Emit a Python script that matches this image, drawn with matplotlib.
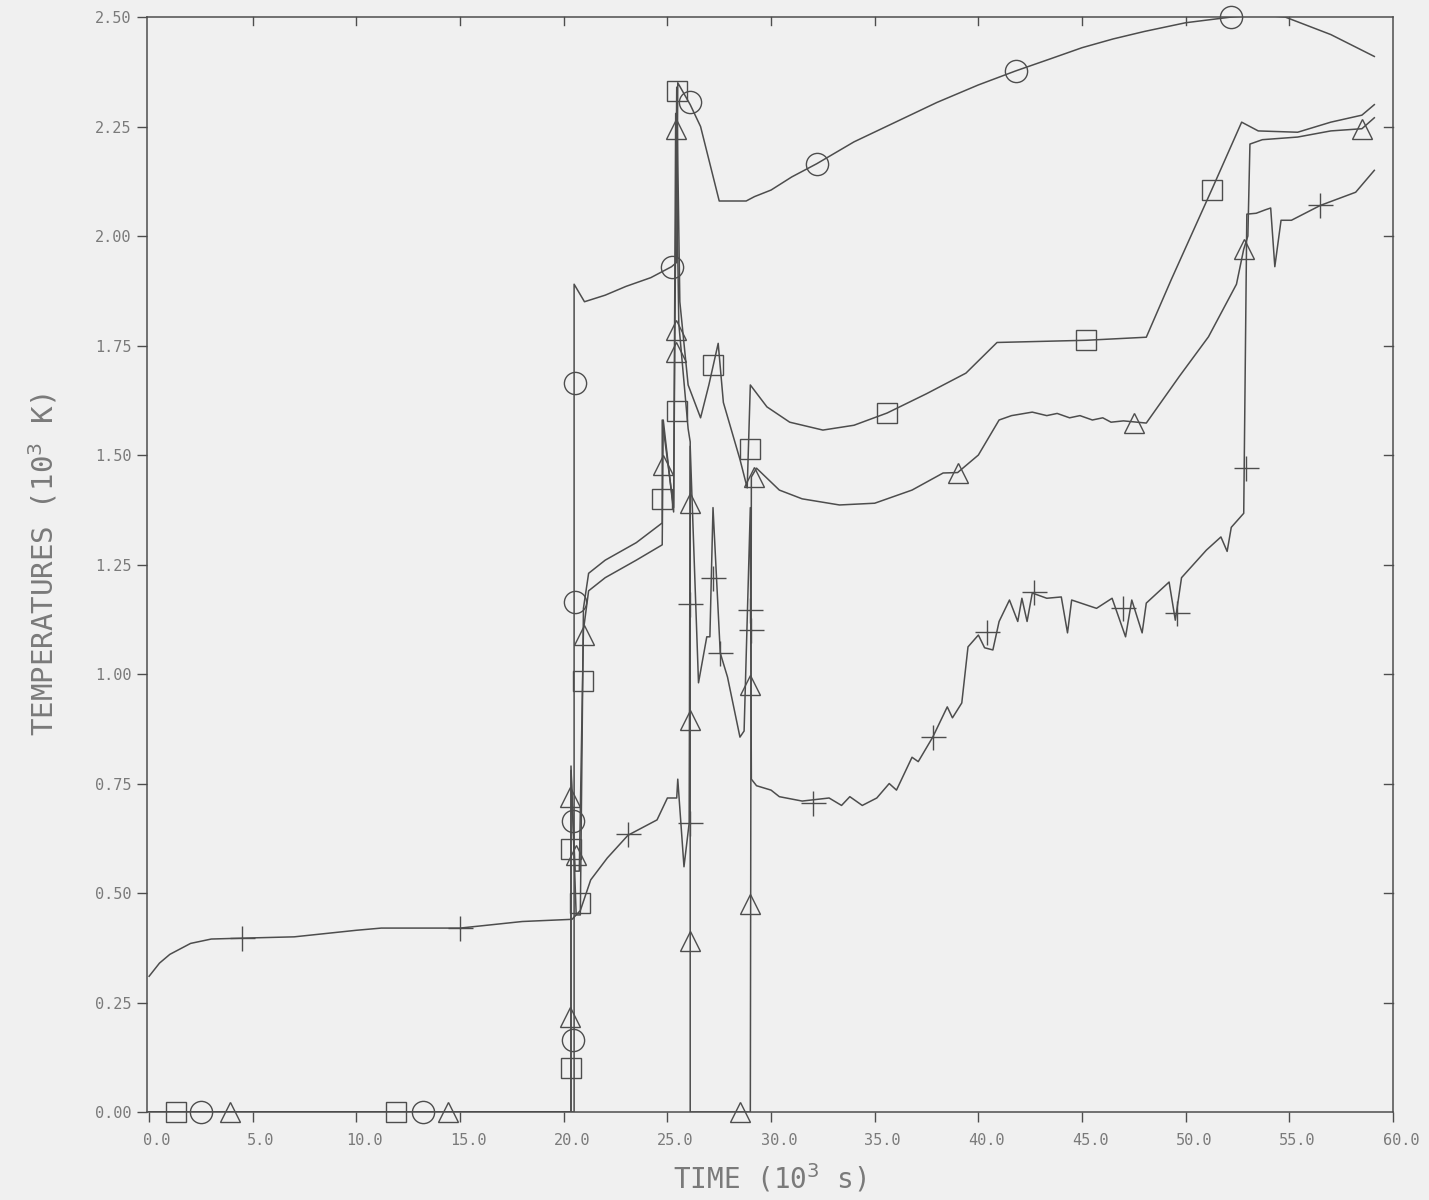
import numpy as np
import matplotlib
matplotlib.use("Agg")
import matplotlib.pyplot as plt
import matplotlib.transforms as mtransforms

# time in 10^3 s, temperature in 10^3 K
circ_t = [0, 20.5, 20.5, 21.0, 22.0, 23.0, 24.2, 25.2, 25.45, 25.5, 26.1, 26.6, 27.5, 28.8,
          29.2, 30.0, 31.0, 32.2, 34.0, 36.0, 38.0, 40.0, 41.8, 43.5, 45.0, 46.5, 48.0,
          50.0, 52.2, 53.5, 54.8, 57.0, 59.1]
circ_T = [0, 0, 1.89, 1.85, 1.865, 1.885, 1.905, 1.93, 1.94, 2.35, 2.30, 2.25, 2.08, 2.08,
          2.09, 2.105, 2.135, 2.165, 2.215, 2.26, 2.305, 2.345, 2.377, 2.405, 2.43, 2.45,
          2.467, 2.487, 2.50, 2.505, 2.50, 2.46, 2.41]
circ_mt = [2.5, 13.2, 20.45, 20.45, 20.55, 20.55, 25.2, 26.1, 32.2, 41.8, 52.2]
circ_mT = [0, 0, 0.165, 0.665, 1.165, 1.665, 1.93, 2.305, 2.165, 2.377, 2.50]

sq_t = [0, 20.35, 20.35, 20.6, 20.8, 20.95, 21.2, 22.0, 23.5, 24.75, 24.75, 25.3, 25.45,
        25.6, 26.0, 26.6, 27.0, 27.45, 27.7, 28.5, 28.85, 29.0, 29.8, 30.9, 32.5, 34.0,
        35.6, 37.5, 39.4, 40.9, 45.2, 48.1, 49.3, 51.25, 52.7, 53.5, 55.4, 57.0, 58.5, 59.1]
sq_T = [0, 0, 0.79, 0.45, 0.45, 1.15, 1.23, 1.26, 1.30, 1.345, 1.58, 1.38, 2.34,
        1.85, 1.66, 1.585, 1.66, 1.755, 1.62, 1.49, 1.425, 1.66, 1.61, 1.575, 1.557, 1.568,
        1.596, 1.64, 1.687, 1.757, 1.762, 1.769, 1.90, 2.105, 2.26, 2.24, 2.237, 2.26,
        2.276, 2.30]
sq_mt = [1.3, 11.9, 20.35, 20.35, 20.8, 20.93, 24.75, 25.45, 25.45, 27.2, 29.0, 35.6, 45.2, 51.25]
sq_mT = [0, 0, 0.10, 0.60, 0.477, 0.984, 1.40, 1.60, 2.33, 1.705, 1.514, 1.596, 1.762, 2.105]

tri_t = [0, 20.35, 20.35, 20.55, 20.75, 20.95, 21.2, 22.0, 23.5, 24.75, 24.8, 25.3, 25.4,
         25.55, 26.0, 26.1, 26.1, 29.0, 29.05, 29.3, 30.4, 31.5, 33.3, 35.0, 36.8, 38.3,
         39.0, 40.0, 41.0, 41.6, 42.6, 43.3, 43.8, 44.4, 44.9, 45.5, 46.0, 46.4, 47.0,
         48.1, 49.7, 51.1, 52.45, 52.8, 53.0, 53.1, 53.7, 55.4, 57.0, 58.5, 59.1]
tri_T = [0, 0, 0.78, 0.55, 0.55, 1.10, 1.19, 1.22, 1.26, 1.295, 1.58, 1.37, 2.28,
         1.80, 1.56, 1.53, 0, 0, 1.45, 1.47, 1.42, 1.40, 1.386, 1.39, 1.42, 1.459,
         1.46, 1.50, 1.58, 1.59, 1.598, 1.59, 1.595, 1.585, 1.59, 1.58, 1.585, 1.575, 1.578,
         1.573, 1.68, 1.77, 1.89, 1.97, 2.0, 2.21, 2.22, 2.226, 2.24, 2.245, 2.27]
tri_mt = [3.9, 14.4, 20.3, 20.3, 20.6, 21.0, 24.8, 25.4, 25.4, 25.4, 26.1, 26.1, 26.1,
          28.5, 29.0, 29.0, 29.2, 39.0, 47.5, 52.8, 58.5]
tri_mT = [0, 0, 0.217, 0.72, 0.587, 1.09, 1.477, 1.735, 1.785, 2.245, 1.39, 0.895, 0.39,
          0, 0.475, 0.975, 1.45, 1.46, 1.573, 1.97, 2.245]

plus_t = [0, 0.5, 1.0, 2.0, 3.0, 4.5, 7.0, 10.0, 11.2, 15.0, 18.0, 20.4, 20.8, 21.3, 22.1,
          23.1, 24.5, 25.0, 25.45, 25.5, 25.8, 26.05, 26.1, 26.5, 26.9, 27.05, 27.2, 27.55,
          27.9, 28.5, 28.7, 29.0, 29.05, 29.3, 30.0, 30.4, 31.5, 32.8, 33.4, 33.8, 34.4,
          35.1, 35.7, 36.05, 36.8, 37.1, 37.8, 38.5, 38.75, 39.2, 39.5, 40.0, 40.3, 40.7,
          41.0, 41.5, 41.9, 42.1, 42.35, 42.6, 43.3, 44.0, 44.3, 44.5, 45.7, 46.45, 47.1,
          47.4, 47.9, 48.1, 49.2, 49.5, 49.8, 51.0, 51.7, 52.0, 52.2, 52.8, 52.95, 53.4,
          53.85, 54.1, 54.3, 54.6, 55.1, 56.5, 58.2, 59.1]
plus_T = [0.31, 0.34, 0.36, 0.385, 0.395, 0.397, 0.40, 0.415, 0.42, 0.42, 0.435, 0.44, 0.46,
          0.53, 0.58, 0.632, 0.667, 0.717, 0.717, 0.76, 0.56, 0.66, 1.52, 0.98, 1.085, 1.085,
          1.38, 1.048, 0.993, 0.856, 0.87, 1.38, 0.76, 0.745, 0.735, 0.72, 0.71, 0.717, 0.70,
          0.72, 0.70, 0.717, 0.75, 0.735, 0.81, 0.80, 0.856, 0.925, 0.90, 0.934, 1.062, 1.089,
          1.06, 1.055, 1.12, 1.169, 1.12, 1.173, 1.12, 1.185, 1.173, 1.176, 1.094, 1.169,
          1.15, 1.173, 1.085, 1.169, 1.094, 1.162, 1.21, 1.123, 1.22, 1.283, 1.313, 1.28,
          1.335, 1.367, 2.05, 2.052, 2.06, 2.064, 1.93, 2.036, 2.036, 2.07, 2.10, 2.15]
plus_mt = [4.5, 15.0, 23.1, 26.1, 26.1, 27.2, 27.55, 29.0, 29.05, 32.0, 37.8, 40.4, 42.7,
           47.0, 49.6, 52.9, 56.5]
plus_mT = [0.397, 0.42, 0.635, 0.66, 1.16, 1.22, 1.048, 1.146, 1.10, 0.705, 0.856, 1.095,
           1.187, 1.15, 1.14, 1.47, 2.07]

xticks = np.arange(0, 60.1, 5)
yticks = np.arange(0, 2.51, 0.25)

ink = "#4d4d4d"
txt = "#7a7a7a"
bg = "#f0f0f0"
plt.rcParams["font.family"] = ["DejaVu Sans Mono"]

fig = plt.figure(figsize=(14.29, 12), dpi=100, facecolor=bg)
ax = fig.add_axes([0.1029, 0.0733, 0.8719, 0.9125], facecolor=bg)

series = [
    (circ_t, circ_T, circ_mt, circ_mT, "o", 16),
    (sq_t, sq_T, sq_mt, sq_mT, "s", 14),
    (tri_t, tri_T, tri_mt, tri_mT, "^", 15),
    (plus_t, plus_T, plus_mt, plus_mT, "+", 18),
]
for t, T, mt, mT, mk, ms in series:
    ax.plot(t, T, color=ink, lw=1.1)
    ax.plot(mt, mT, ls="none", marker=mk, ms=ms, mfc="none", mec=ink, mew=1.0,
            clip_on=False)

ax.set_xlim(-0.1, 60)
ax.set_ylim(0, 2.5)
ax.set_xticks(xticks)
ax.set_yticks(yticks)
ax.set_xticklabels(["%.1f" % v for v in xticks])
ax.set_yticklabels(["%.2f" % v for v in yticks])
ax.tick_params(axis="both", which="both", colors=ink, labelcolor=txt,
               labelsize=11, length=7, width=1, direction="out")
ax.tick_params(axis="x", pad=8)
ax.tick_params(axis="y", pad=4)
# shift x tick labels slightly right as on the plotter output
off = mtransforms.ScaledTranslation(0.08, 0, fig.dpi_scale_trans)
for lab in ax.get_xticklabels():
    lab.set_transform(lab.get_transform() + off)

# inward ticks on top and right
for v in xticks[1:-1]:
    ax.plot([v, v], [2.5, 2.5 - 0.018], color=ink, lw=1, clip_on=False)
for v in yticks[1:-1]:
    ax.plot([60, 60 - 0.45], [v, v], color=ink, lw=1, clip_on=False)

for sp in ax.spines.values():
    sp.set_color(ink)
    sp.set_linewidth(1.1)

ax.set_xlabel(r"TIME (10$^3$ s)", fontsize=20, color=txt, labelpad=10)
ax.set_ylabel(r"TEMPERATURES (10$^3$ K)", fontsize=21, color=txt, labelpad=26)

fig.savefig("out.png", dpi=100, facecolor=bg)
